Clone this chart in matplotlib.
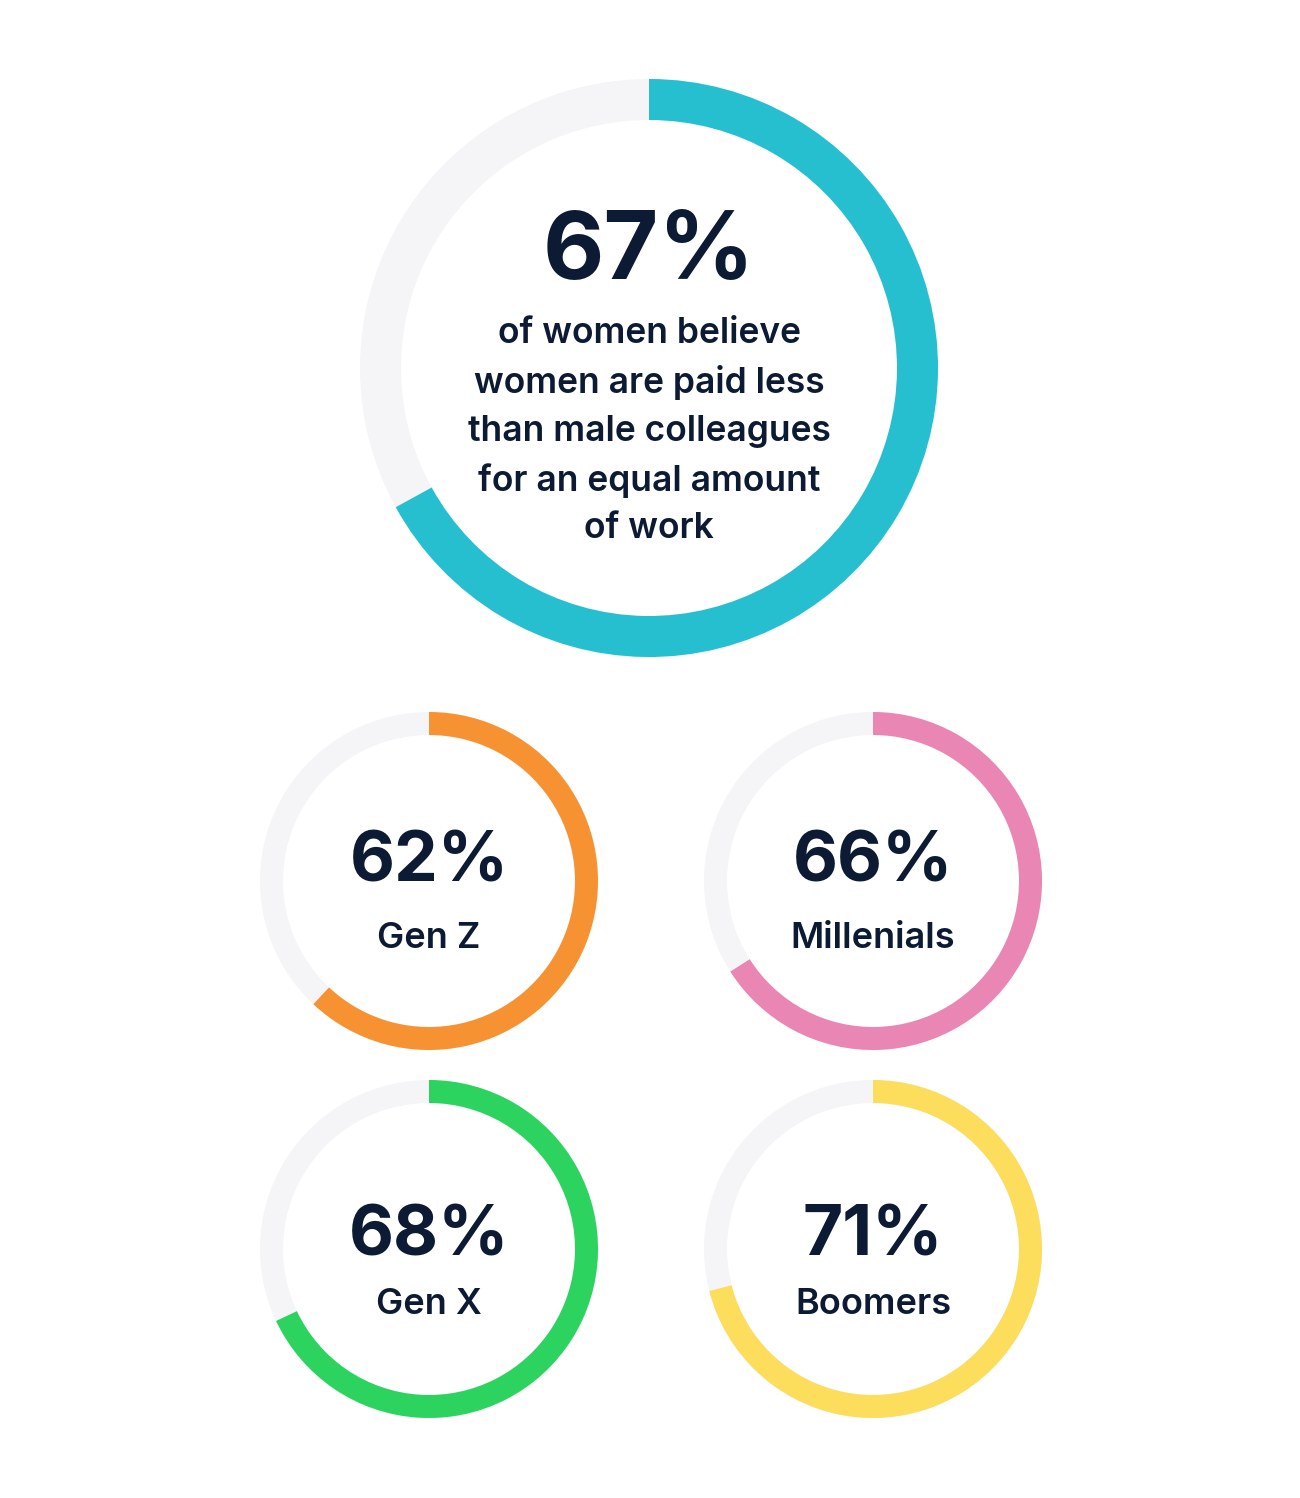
import matplotlib.pyplot as plt
from matplotlib.patches import Wedge

# data
labels = ["Gen Z", "Millenials", "Gen X", "Boomers"]
values = [62, 66, 68, 71]
colors = ["#F79232", "#EA86B4", "#2DD35F", "#FCDD5C"]
main_value = 67
main_text = "of women believe\nwomen are paid less\nthan male colleagues\nfor an equal amount\nof work"
main_color = "#26BFD0"

track = "#F5F5F7"
ink = "#0C1B33"
W, H = 1300, 1498

fig = plt.figure(figsize=(13, 14.98), dpi=100)
ax = fig.add_axes([0, 0, 1, 1])
ax.set_xlim(0, W)
ax.set_ylim(H, 0)
ax.axis("off")


def ring(cx, cy, r, width, pct, color):
    # y axis is flipped, so angles go clockwise on screen when positive
    ax.add_patch(Wedge((cx, cy), r, 0, 360, width=width, color=track, lw=0))
    ax.add_patch(Wedge((cx, cy), r, -90, -90 + 360 * pct / 100, width=width,
                       color=color, lw=0))


# big ring
ring(649, 368, 289, 41, main_value, main_color)
ax.text(649, 254, f"{main_value}%", ha="center", va="center", fontsize=68,
        fontweight="bold", color=ink, family="Inter")
ax.text(649, 431, main_text, ha="center", va="center", fontsize=25.5,
        fontweight="semibold", color=ink, family="Inter", linespacing=1.55)

# small rings
centers = [(429, 881), (873, 881), (429, 1249), (873, 1249)]
pct_dy = [-18, -18, -12, -12]
lab_dy = [58, 58, 56, 56]
for (cx, cy), lab, v, c, d1, d2 in zip(centers, labels, values, colors, pct_dy, lab_dy):
    ring(cx, cy, 169, 23, v, c)
    ax.text(cx, cy + d1, f"{v}%", ha="center", va="center", fontsize=50,
            fontweight="bold", color=ink, family="Inter")
    ax.text(cx, cy + d2, lab, ha="center", va="center", fontsize=26,
            fontweight="semibold", color=ink, family="Inter")

fig.savefig("out.png", dpi=100, facecolor="white")
